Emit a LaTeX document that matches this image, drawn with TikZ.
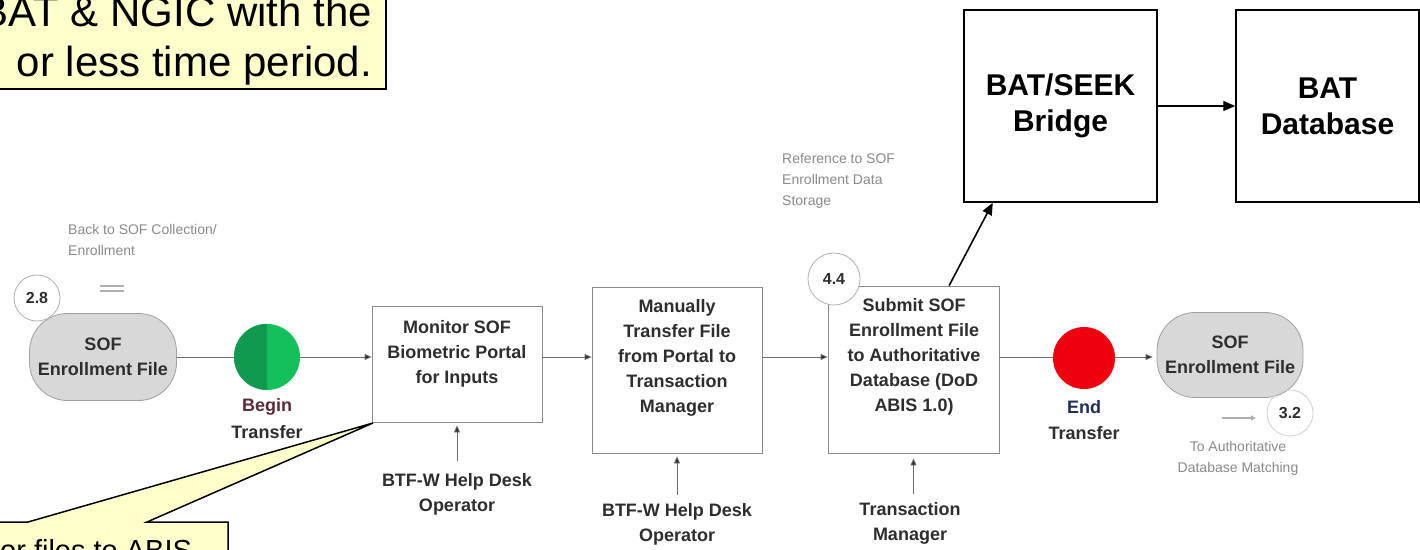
\documentclass[tikz,border=0pt]{standalone}
\usepackage{fontspec}
\setmainfont{Liberation Sans}
\usetikzlibrary{arrows.meta}
\definecolor{callout}{HTML}{FFFFCC}
\definecolor{flowtext}{HTML}{2E2E2E}
\definecolor{notegray}{HTML}{8A8A8A}
\definecolor{boxgray}{HTML}{8C8C8C}
\definecolor{linegray}{HTML}{6E6E6E}
\definecolor{ovalfill}{HTML}{D8D8D8}
\definecolor{ovaldraw}{HTML}{A0A0A0}
\definecolor{begL}{HTML}{0F9A4F}
\definecolor{begR}{HTML}{14C05C}
\definecolor{endred}{HTML}{F0000E}
\definecolor{beginlbl}{HTML}{5B2A3C}
\definecolor{endlbl}{HTML}{1F2F5A}
\definecolor{circgray}{HTML}{B0B0B0}
\begin{document}
\begin{tikzpicture}[x=1pt,y=-1pt,
  flowbox/.style={draw=boxgray, line width=0.8pt, fill=white, inner sep=0pt},
  flowtxt/.style={align=center, font=\fontsize{18}{25}\selectfont\bfseries, text=flowtext, inner sep=2pt},
  note/.style={align=left, font=\fontsize{14}{21}\selectfont, text=notegray, inner sep=0pt},
  numcirc/.style={circle, draw=circgray, fill=white, line width=0.8pt, inner sep=0pt, font=\fontsize{16}{18}\selectfont\bfseries, text=flowtext},
  oval/.style={draw=ovaldraw, fill=ovalfill, rounded corners=38pt, line width=0.8pt, align=center, inner sep=0pt, font=\fontsize{18}{25}\selectfont\bfseries, text=flowtext},
  flowline/.style={draw=linegray, line width=0.8pt},
  flowarrow/.style={draw=linegray, line width=0.8pt, -{Triangle[length=7pt,width=6pt,fill=flowtext]}},
  bigbox/.style={draw=black, line width=1.5pt, fill=white, align=center, font=\fontsize{30}{36}\selectfont\bfseries, inner sep=0pt},
  bigarrow/.style={draw=black, line width=1.6pt, -{Triangle[length=12pt,width=10pt]}},
  calltext/.style={inner sep=0pt, font=\fontsize{42}{50}\selectfont}
]
\useasboundingbox (0,0) rectangle (1420,549);
\fill[white] (0,0) rectangle (1420,549);

% ---- top-left callout
\path[fill=callout, draw=black, line width=1.5pt] (-5,-5) rectangle (386,89);
\node[calltext, anchor=base east] (ct1) at (372,26) {BAT \& NGIC with the};
\node[calltext, anchor=base east] (ct2) at (372,76) {or less time period.};

% ---- big boxes
\node[bigbox, minimum width=193pt, minimum height=192pt] (bridge) at (1060.5,106) {BAT/SEEK\\Bridge};
\node[bigbox, minimum width=183pt, minimum height=192pt] (db) at (1327.5,106) {BAT\\Database};
\draw[bigarrow] (bridge.east) -- (db.west);

% ---- flow
\coordinate (flowy) at (0,357);
\node[note] (backnote) at (68,224) [anchor=north west] {Back to SOF Collection/\\Enrollment};
\draw[draw=circgray, line width=1.2pt] (100,286) -- (124,286) (100,291) -- (124,291);
\node[oval, minimum width=147pt, minimum height=87pt] (sofL) at (103,357) {SOF\\Enrollment File};
\node[numcirc, minimum size=46pt] (n28) at (37,298) {2.8};

\node[circle, fill=begR, minimum size=66pt, inner sep=0pt] (begin) at (267,357) {};
\fill[begL] (begin.north) arc[start angle=90, end angle=270, radius=33pt] -- cycle;
\node[flowtxt, text=beginlbl] (beginA) at (267,407) {Begin};
\node[flowtxt] (beginB) at (267,432) {Transfer};

\node[flowbox, minimum width=170pt, minimum height=116pt] (monitor) at (457,364) {};
\node[flowtxt] (monitorT) at (457,354) {Monitor SOF\\Biometric Portal\\for Inputs};

\node[flowbox, minimum width=170pt, minimum height=166pt] (manual) at (677,370) {};
\node[flowtxt] (manualT) at (677,358) {Manually\\Transfer File\\from Portal to\\Transaction\\Manager};

\node[flowbox, minimum width=171pt, minimum height=167pt] (submit) at (913.5,369.5) {};
\node[flowtxt] (submitT) at (914,357) {Submit SOF\\Enrollment File\\to Authoritative\\Database (DoD\\ABIS 1.0)};
\node[numcirc, minimum size=52pt] (n44) at (834,279) {4.4};
\node[note] (refnote) at (782,153) [anchor=north west] {Reference to SOF\\Enrollment Data\\Storage};

\node[circle, fill=endred, minimum size=62pt, inner sep=0pt] (endc) at (1084,358) {};
\node[flowtxt, text=endlbl] (endA) at (1084,407) {End};
\node[flowtxt] (endB) at (1084,433) {Transfer};

\node[oval, minimum width=146pt, minimum height=85pt] (sofR) at (1230,355) {SOF\\Enrollment File};
\node[numcirc, draw=circgray!60, fill=none, minimum size=46pt] (n32) at (1290,413) {3.2};
\coordinate (sa1) at (1222,418);
\coordinate (sa2) at (1256,418);
\draw[draw=circgray, line width=1.2pt, -{Triangle[length=5pt,width=5pt]}] (sa1) -- (sa2);
\node[note, align=center] (tonote) at (1238,458) {To Authoritative\\Database Matching};

\node[flowtxt] (op1) at (457,494) {BTF-W Help Desk\\Operator};
\node[flowtxt] (op2) at (677,524) {BTF-W Help Desk\\Operator};
\node[flowtxt] (tm) at (910,523) {Transaction\\Manager};

\draw[flowline] (sofL.east |- flowy) -- (begin.west |- flowy);
\draw[flowarrow] (begin.east |- flowy) -- (monitor.west |- flowy);
\draw[flowarrow] (monitor.east |- flowy) -- (manual.west |- flowy);
\draw[flowarrow] (manual.east |- flowy) -- (submit.west |- flowy);
\draw[flowline] (submit.east |- flowy) -- (endc.west |- flowy);
\draw[flowarrow] (endc.east |- flowy) -- ([xshift=-4pt]sofR.west |- flowy);

\draw[flowarrow, shorten <=10pt, shorten >=3pt] (op1.north) -- (monitor.south);
\draw[flowarrow, shorten <=6pt, shorten >=3pt] (op2.north) -- (manual.south);
\draw[flowarrow, shorten <=6pt, shorten >=5pt] (tm.north -| submit.south) -- (submit.south);

\draw[bigarrow] (submit.67) -- (bridge.235);

% ---- bottom-left callout
\path[fill=callout, draw=black, line width=1.5pt, line join=miter]
  (-5,522) -- (28,522) -- (373,423) -- (147,522) -- (228,522) -- (228,560) -- (-5,560) -- cycle;
\node[calltext, font=\fontsize{29}{34}\selectfont, anchor=base west] (cb) at (0,560) {or files to ABIS};
\end{tikzpicture}
\end{document}
